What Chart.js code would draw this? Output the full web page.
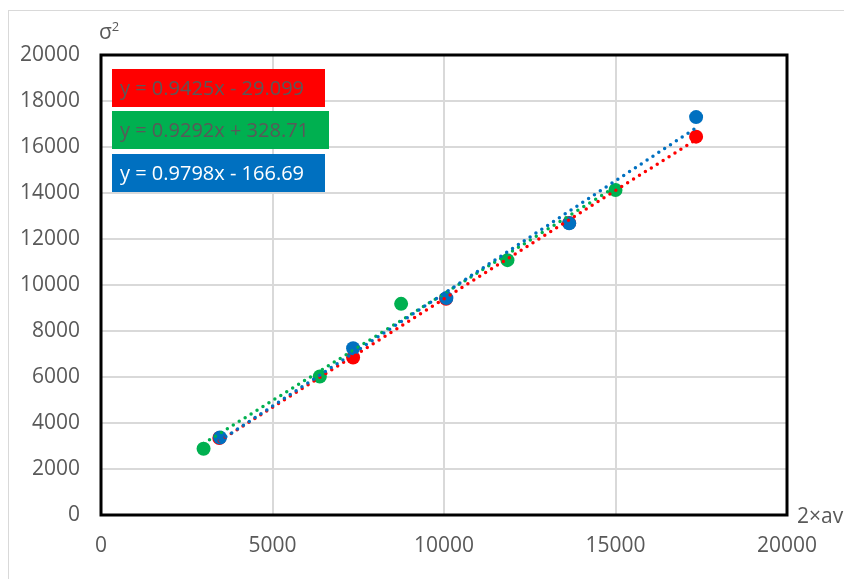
<!DOCTYPE html>
<html>
<head>
<meta charset="utf-8">
<script src="https://cdn.jsdelivr.net/npm/chart.js@4/dist/chart.umd.min.js"></script>
<style>
  body { margin: 0; background: #fff; font-family: "Open Sans", sans-serif; }
  #wrap { position: relative; width: 844px; height: 579px; overflow: hidden; }
  #frame { position: absolute; left: 8px; top: 10px; width: 900px; height: 600px;
           border-left: 1.5px solid #d9d9d9; border-top: 1.5px solid #d9d9d9; }
  .eq { position: absolute; left: 112px; height: 38px; line-height: 38px; padding-left: 8px;
        font-size: 20px; color: #595959; box-sizing: border-box; white-space: nowrap; }
  .title { position: absolute; font-size: 21px; color: #595959; white-space: nowrap; }
</style>
</head>
<body>
<div id="wrap">
  <div id="frame"></div>
  <canvas id="chart"></canvas>
  <div class="eq" style="top:69px; width:213px; background:#ff0000;">y = 0.9425x - 29.099</div>
  <div class="eq" style="top:111px; width:217px; background:#00b050;">y = 0.9292x + 328.71</div>
  <div class="eq" style="top:154px; width:213px; background:#0070c0; color:#fff;">y = 0.9798x - 166.69</div>
  <div class="title" style="left:99px; top:17px;">σ<sup style="font-size:13px;">2</sup></div>
  <div class="title" style="left:797px; top:501px;">2×av</div>
</div>
<script>
// точки серій
const redX = [3450, 7350, 10060, 13650, 17350];
const redY = [3350, 6850, 9400, 12700, 16450];
const greenX = [2990, 6380, 8750, 11850, 15000];
const greenY = [2880, 6020, 9180, 11080, 14130];
const blueX = [3470, 7350, 10070, 13650, 17350];
const blueY = [3370, 7250, 9430, 12680, 17300];

// лінії тренду (з підписів)
const slopes = [0.9425, 0.9292, 0.9798];
const intercepts = [-29.099, 328.71, -166.69];
const colors = ["#ff0000", "#00b050", "#0070c0"];

const series = [[redX, redY], [greenX, greenY], [blueX, blueY]];

function points(xs, ys) {
    return xs.map((x, i) => ({ x: x, y: ys[i] }));
}

function trend(k) {
    const xs = series[k][0];
    const x0 = Math.min(...xs), x1 = Math.max(...xs);
    return [x0, x1].map(x => ({ x: x, y: slopes[k] * x + intercepts[k] }));
}

const datasets = [];
// тренди поверх точок
[2, 1, 0].forEach(k => {
    datasets.push({
        data: trend(k), showLine: true, pointRadius: 0,
        borderColor: colors[k], borderWidth: 3.5,
        borderDash: [0, 7], borderCapStyle: "round", order: 0
    });
});
[2, 1, 0].forEach(k => {
    datasets.push({
        data: points(series[k][0], series[k][1]),
        backgroundColor: colors[k], borderColor: colors[k],
        pointRadius: 7, pointBorderWidth: 0, order: 1
    });
});

// чорна рамка області графіка
const plotBorder = {
    id: "plotBorder",
    beforeDatasetsDraw(chart) {
        const a = chart.chartArea, ctx = chart.ctx;
        ctx.save();
        ctx.strokeStyle = "#000";
        ctx.lineWidth = 3;
        ctx.strokeRect(a.left, a.top, a.right - a.left, a.bottom - a.top);
        ctx.restore();
    }
};

const tickFont = { family: "Open Sans", size: 21 };

new Chart(document.getElementById("chart"), {
    type: "scatter",
    data: { datasets: datasets },
    options: {
        responsive: true,
        maintainAspectRatio: false,
        animation: false,
        layout: { padding: { left: 0, top: 55, right: 57, bottom: 0 } },
        plugins: { legend: { display: false }, tooltip: { enabled: false } },
        scales: {
            x: {
                type: "linear", min: 0, max: 20000,
                ticks: { stepSize: 5000, color: "#595959", font: tickFont, padding: 18,
                         callback: v => String(v) },
                grid: { color: "#d9d9d9", lineWidth: 2, drawTicks: false },
                border: { display: false },
                afterFit: s => { s.height = 64; }
            },
            y: {
                type: "linear", min: 0, max: 20000,
                ticks: { stepSize: 2000, color: "#595959", font: tickFont, padding: 21,
                         callback: v => String(v) },
                grid: { color: "#d9d9d9", lineWidth: 2, drawTicks: false },
                border: { display: false },
                afterFit: s => { s.width = 101; }
            }
        }
    },
    plugins: [plotBorder]
});
</script>
</body>
</html>
